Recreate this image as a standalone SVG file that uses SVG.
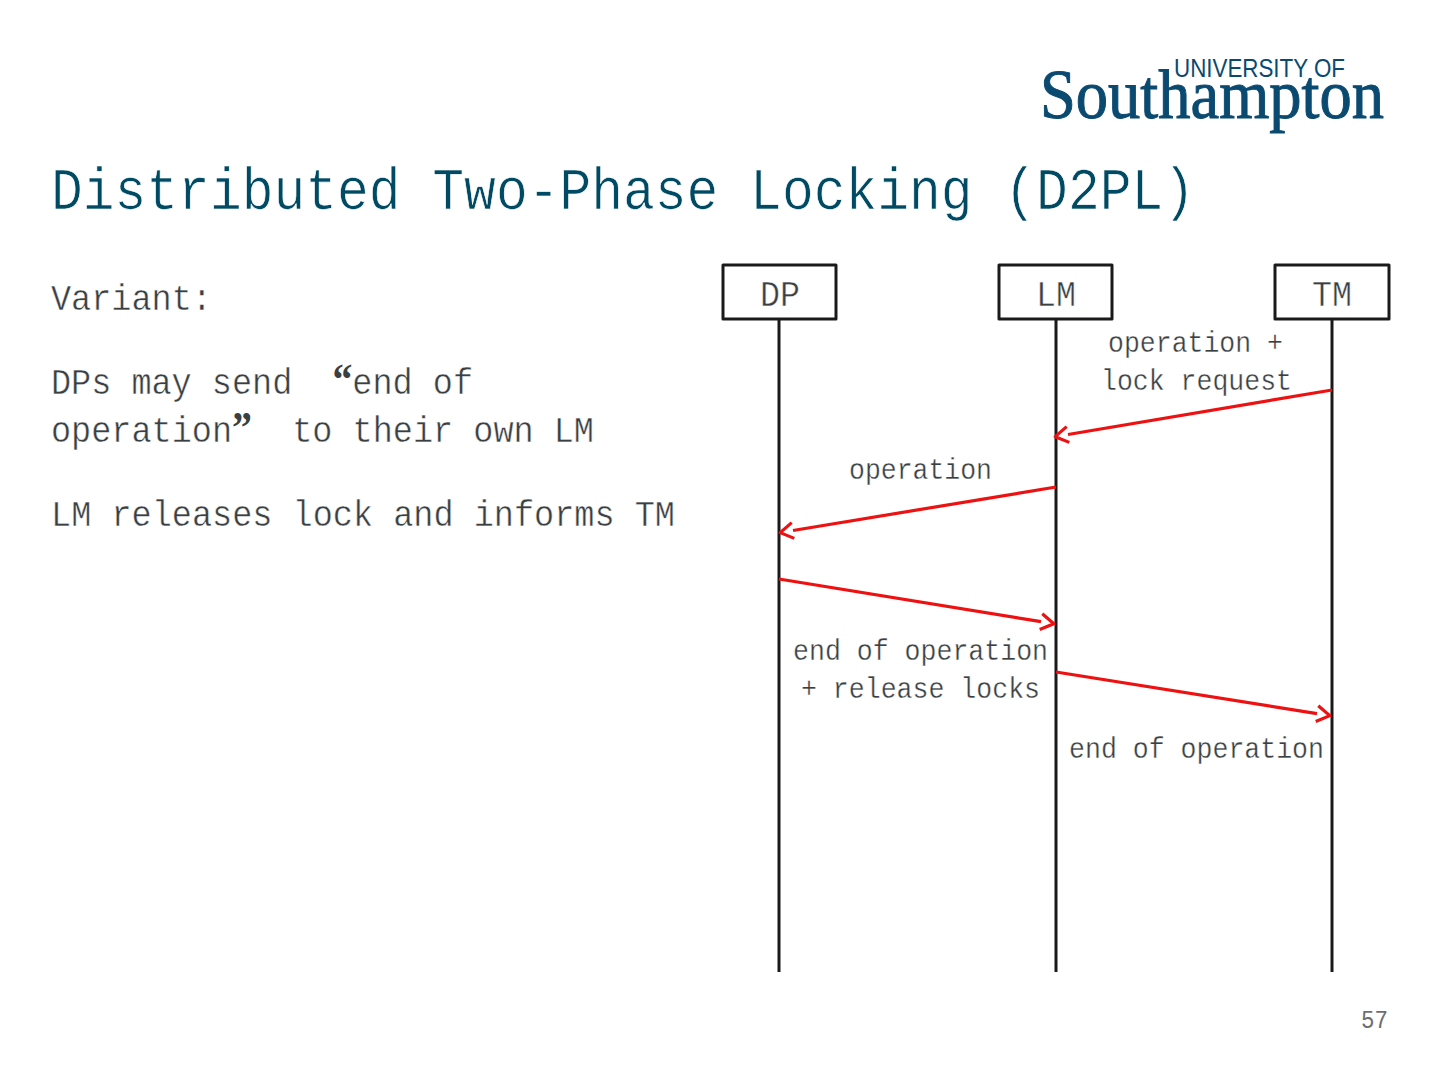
<svg xmlns="http://www.w3.org/2000/svg" width="1440" height="1080" viewBox="0 0 1440 1080">
<style>
text{font-family:"Liberation Mono",monospace;white-space:pre}
.title{font-size:60px;fill:#004b63;stroke:#fff;stroke-width:.7}
.body{font-size:37px;fill:#3a3f42;stroke:#fff;stroke-width:.45}
.quote{font-family:"Liberation Serif",serif;font-size:44px;font-weight:bold;stroke:none}
.node{font-size:36px;fill:#3a3f42;stroke:#fff;stroke-width:.45;text-anchor:middle}
.label{font-size:30px;fill:#3a3f42;stroke:#fff;stroke-width:.35}
.box{fill:#fff;stroke:#1a1a1a;stroke-width:3;stroke-linejoin:round}
.life{stroke:#1a1a1a;stroke-width:3;fill:none}
.msg{stroke:#ee1111;stroke-width:3.2;fill:none;marker-end:url(#open)}
.logo{fill:#0b4a70}
</style>
<defs>
<marker id="open" markerUnits="userSpaceOnUse" markerWidth="34" markerHeight="24" refX="15" refY="12" orient="auto" overflow="visible">
<path d="M15 4 L28 12 L15 20" fill="none" stroke="#ee1111" stroke-width="3.2" stroke-linejoin="round"/>
</marker>
</defs>
<rect width="1440" height="1080" fill="#fff"/>
<g id="logo">
<text class="logo" x="1174" y="77" textLength="171" lengthAdjust="spacingAndGlyphs" style="font-family:'Liberation Sans',sans-serif;font-size:25px">UNIVERSITY OF</text>
<text class="logo" x="1040" y="118" textLength="344" lengthAdjust="spacingAndGlyphs" style="font-family:'Liberation Serif',serif;font-size:69px;stroke:#0b4a70;stroke-width:1">Southampton</text>
</g>
<text class="title" x="51" y="209" textLength="1144" lengthAdjust="spacingAndGlyphs">Distributed Two-Phase Locking (D2PL)</text>
<g id="bullets">
<text class="body" x="51" y="310" textLength="161" lengthAdjust="spacingAndGlyphs">Variant:</text>
<text class="body" x="51" y="394" textLength="422" lengthAdjust="spacingAndGlyphs">DPs may send  <tspan class="quote">“</tspan>end of</text>
<text class="body" x="51" y="442" textLength="543" lengthAdjust="spacingAndGlyphs">operation<tspan class="quote">”</tspan>  to their own LM</text>
<text class="body" x="51" y="526" textLength="624" lengthAdjust="spacingAndGlyphs">LM releases lock and informs TM</text>
</g>
<g id="connectors">
<path class="life" d="M779 320V972"/>
<path class="life" d="M1056 320V972"/>
<path class="life" d="M1332 320V972"/>
<path class="msg" d="M1332 390L1068 434.5"/>
<path class="msg" d="M1056 487L793 530.5"/>
<path class="msg" d="M779 579L1041 621.6"/>
<path class="msg" d="M1056 672L1317 713.6"/>
</g>
<g id="node-dp"><rect class="box" x="723" y="265" width="113" height="54"/><text class="node" x="780" y="306" textLength="40" lengthAdjust="spacingAndGlyphs">DP</text></g>
<g id="node-lm"><rect class="box" x="999" y="265" width="113" height="54"/><text class="node" x="1056" y="306" textLength="40" lengthAdjust="spacingAndGlyphs">LM</text></g>
<g id="node-tm"><rect class="box" x="1275" y="265" width="114" height="54"/><text class="node" x="1332" y="306" textLength="40" lengthAdjust="spacingAndGlyphs">TM</text></g>
<g id="labels">
<text class="label" x="1108" y="352" textLength="175" lengthAdjust="spacingAndGlyphs">operation +</text>
<text class="label" x="1101" y="390" textLength="191" lengthAdjust="spacingAndGlyphs">lock request</text>
<text class="label" x="849" y="479" textLength="143" lengthAdjust="spacingAndGlyphs">operation</text>
<text class="label" x="793" y="660" textLength="255" lengthAdjust="spacingAndGlyphs">end of operation</text>
<text class="label" x="801" y="698" textLength="239" lengthAdjust="spacingAndGlyphs">+ release locks</text>
<text class="label" x="1069" y="758" textLength="255" lengthAdjust="spacingAndGlyphs">end of operation</text>
</g>
<text x="1361" y="1028" textLength="27" lengthAdjust="spacingAndGlyphs" style="font-size:26px;fill:#6b6f72">57</text>
</svg>
